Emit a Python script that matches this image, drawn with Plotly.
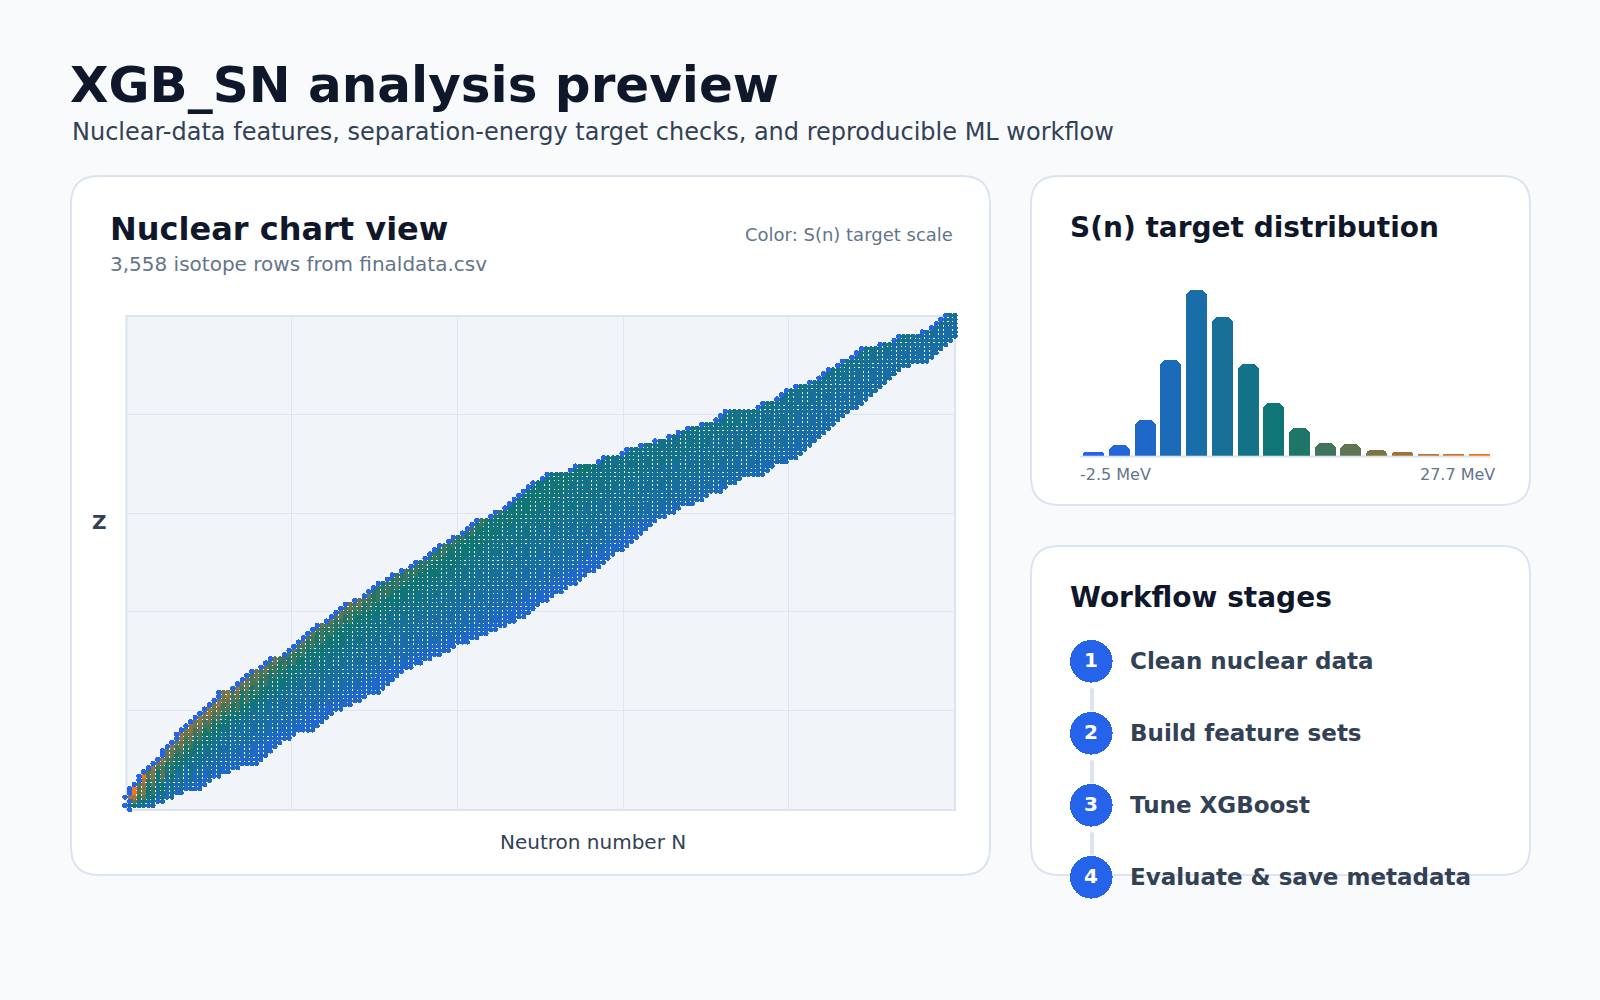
import plotly.graph_objects as go

BG = "#f8fafc"; INK = "#0f172a"; SLATE = "#334155"; MUTED = "#64748b"; EDGE = "#dbe4f0"; GRID = "#dfe6f1"; BLUE = "#2563eb"
COLORSCALE = [[0, "#2563eb"], [0.5, "#0f766e"], [1, "#f97316"]]
SN_MIN = -2.5
SN_MAX = 27.7
FONT = "DejaVu Sans"

# ---- isotope rows: first and last neutron number present for each Z = index
n_first = [1,0,1,0,1,1,2,3,3,4,
           5,6,7,8,8,9,10,11,11,12,
           13,14,15,16,17,18,19,20,20,23,
           24,25,26,27,29,30,31,34,35,36,
           37,38,39,40,41,43,44,45,46,47,
           49,51,52,53,54,56,57,59,61,62,
           64,65,66,67,69,70,72,73,74,75,
           78,79,81,82,83,84,85,86,87,89,
           90,95,96,101,102,106,107,110,113,116,
           118,120,123,126,127,128,135,136,139,140,
           141,143,146,148,149,150,152,153,155,156,
           157,161,164,165,170,172,173,174,175]
n_last = [1,6,8,10,12,16,17,18,20,22,
          24,28,29,30,31,32,33,35,36,40,
          41,42,43,44,46,48,50,51,54,55,
          56,57,58,59,61,63,65,67,69,70,
          73,75,77,79,81,83,85,86,87,88,
          90,91,93,94,96,97,98,100,101,102,
          103,104,106,107,108,109,110,111,112,113,
          115,117,118,121,123,124,127,128,130,131,
          136,137,138,141,143,144,145,146,147,148,
          149,150,151,152,153,154,156,157,158,159,
          160,161,162,163,164,165,167,171,172,173,
          174,175,176,177,177,177,177,177,177]

# ---- S(n): first N, per Z, at which S(n) falls under each level
below_24 = [0,0,0,2,3,3,3,4,5] + [0]*110
below_20 = [0,0,2,3,4,4,4,5,6,6,7,8,9,10,10,11,12,13,14,15,16,17,18,19,20,21,22,23,23,25,26,26,27,28,30,31,32,34,35,36,37,38,39,40,42,43] + [0]*73
below_16 = [0,1,2,4,5,5,5,6,7,7,8,9,10,11,12,13,14,15,16,17,18,19,20,21,22,23,24,25,25,27,28,29,30,31,32,33,34,36,37,38,39,40,41,42,44,45,47,48,50,51,52,53,53] + [0]*66
below_13 = [1,2,3,5,6,6,7,8,9,9,10,11,12,13,14,15,16,17,18,19,20,21,22,23,25,26,27,28,29,30,31,32,33,34,35,37,38,39,40,41,43,44,45,46,47,49,50,51,53,54,55,57,58,59,60,61,63,64,65,66,68,69,70,71,72,73,75,76,77,78,80,81,82,83,84,85,86,87,88,89,90] + [0]*38
below_10 = [1,2,4,6,7,8,8,9,10,11,12,13,14,15,16,17,18,19,20,21,22,23,24,26,27,28,29,30,32,33,34,35,36,37,39,40,41,43,44,45,47,48,49,50,51,53,54,56,57,59,60,61,63,64,65,67,68,69,71,72,73,75,76,77,78,80,81,82,83,85,87,88,90,91,92,93,94,95,96,97,99,100,101,103,104,107,108,111,114,117,120,122,124,127,128,129,136,137,140,141,142,144,147,149,150,151,153,154,156,157,158,162,165,166,171,173,174,175,176]
below_8 = [1,3,5,7,8,9,9,10,11,12,13,15,16,17,18,19,20,21,22,23,24,25,26,28,29,30,31,33,34,36,37,38,39,41,43,44,46,47,48,49,51,52,54,55,56,58,60,61,63,64,66,67,68,70,71,72,74,75,76,78,79,81,82,84,85,87,88,90,91,93,95,97,98,100,101,102,104,105,107,108,110,112,114,116,118,120,122,124,125,127,129,131,133,134,135,136,139,140,143,144,146,148,150,151,153,154,155,157,159,160,161,164,167,168,172,174,175,176,177]
below_7 = [1,4,6,8,9,10,11,12,13,14,15,17,18,19,20,21,22,23,25,26,27,28,29,31,32,33,35,36,38,40,41,43,44,45,47,48,50,51,53,54,56,57,59,60,62,63,65,66,68,70,72,73,75,76,78,79,81,82,84,85,87,88,90,91,93,95,96,98,100,101,103,105,107,108,110,112,114,116,118,120,122,124,126,128,130,131,133,134,135,137,139,140,142,143,144,146,147,149,150,152,153,154,156,157,158,159,160,162,163,164,165,168,170,171,174,175,176,177,178]
below_5 = [1,5,7,9,10,12,13,14,15,16,17,19,20,21,22,24,25,27,28,29,31,32,33,35,36,38,39,41,43,44,46,47,49,50,52,53,55,57,58,59,61,63,64,66,67,69,71,72,74,76,78,79,81,83,84,86,87,89,90,92,93,95,96,98,99,101,103,104,106,108,110,112,114,116,118,120,122,124,126,128,130,132,134,136,138,139,141,142,144,145,147,148,150,151,152,154,155,157,158,160,161,162,164,165,166,167,168,170,171,172,174,175,176,178,178,178,178,178,178]
below_4 = [2,6,8,10,11,13,15,16,17,18,20,22,23,24,25,27,28,30,31,33,34,35,37,38,40,42,43,45,47,48,50,51,53,54,56,58,60,61,63,65,66,68,70,72,74,75,77,79,81,83,85,86,88,89,91,92,93,95,96,97,99,100,101,103,104,106,107,108,110,112,114,116,117,119,121,123,125,127,130,132,135,136,138,141] + [999]*35
below_2 = [2,7,9,11,12,15,16,17,19,21,22,25,26,27,28,29,30,32,33,36,37,38,39,40,42,44,46,47,50,51,52,53,54,55,57,59,61,63,65,66,69,71,73,75,77,79,81,82,83,84,86,87,89,90,92,93,94,96,97,98,99,100,102,103,104,105,106,107,108,109,110] + [999]*48

sn_levels = [below_24, below_20, below_16, below_13, below_10, below_8, below_7, below_5, below_4, below_2]
# S(n), MeV, of the band above each level; the final value is the band under the last level
sn_band = [26.0, 19.5, 17.0, 14.5, 11.7, 9.5, 7.7, 6.2, 4.7, 3.2, 1.5]
# odd-even staggering seen as column stripes, one value per ten Z
stripe = [3.0, 1.2, 1.1, 1.0, 0.9, 0.8, 0.7, 0.6, 0.5, 0.4, 0.4, 0.4]

# ---- S(n) histogram
hist_counts = [20, 57, 192, 515, 892, 747, 494, 284, 149, 68, 63, 31, 20, 9, 9, 9]
hist_labels = ["-2.5 MeV", "27.7 MeV"]

steps = ["Clean nuclear data", "Build feature sets", "Tune XGBoost", "Evaluate & save metadata"]

# ---- assemble points
xs, ys, cs = [], [], []
for z, (a, b) in enumerate(zip(n_first, n_last)):
    for n in range(a + 1, b + 1):
        band = len(sn_band) - 1
        for i, lv in enumerate(sn_levels):
            if n < lv[z]:
                band = i
                break
        xs.append(n); ys.append(z)
        cs.append(sn_band[band] + (stripe[z // 10] if n % 2 == 0 else -stripe[z // 10]))

W, H = 1600, 1000
def px(x): return x / W
def py(y): return 1 - y / H

fig = go.Figure()
fig.add_trace(go.Scatter(x=xs, y=ys, mode="markers", cliponaxis=False, hoverinfo="skip",
    marker=dict(size=5, symbol="circle", color=cs, cmin=SN_MIN, cmax=SN_MAX, colorscale=COLORSCALE, line_width=0), xaxis="x", yaxis="y"))
fig.add_trace(go.Scatter(x=n_first, y=list(range(len(n_first))), mode="markers", cliponaxis=False, hoverinfo="skip",
    marker=dict(size=5.4, symbol="circle", color=BLUE, line_width=0), xaxis="x", yaxis="y"))

bin_w = (SN_MAX - SN_MIN) / len(hist_counts)
centers = [SN_MIN + (i + 0.5) * bin_w for i in range(len(hist_counts))]
fig.add_trace(go.Bar(x=centers, y=hist_counts, width=bin_w * 0.82, hoverinfo="skip",
    marker=dict(color=[i / (len(hist_counts) - 1) for i in range(len(hist_counts))], cmin=0, cmax=1, colorscale=COLORSCALE, cornerradius=7, line_width=0),
    xaxis="x2", yaxis="y2"))

def rrect(x0, y0, x1, y1, r):
    X = lambda v: f"{px(v):.5f}"
    Y = lambda v: f"{py(v):.5f}"
    return (f"M {X(x0+r)} {Y(y0)} L {X(x1-r)} {Y(y0)} Q {X(x1)} {Y(y0)} {X(x1)} {Y(y0+r)} "
            f"L {X(x1)} {Y(y1-r)} Q {X(x1)} {Y(y1)} {X(x1-r)} {Y(y1)} L {X(x0+r)} {Y(y1)} "
            f"Q {X(x0)} {Y(y1)} {X(x0)} {Y(y1-r)} L {X(x0)} {Y(y0+r)} Q {X(x0)} {Y(y0)} {X(x0+r)} {Y(y0)} Z")

shapes = []
for box in [(71, 176, 990, 875), (1031, 176, 1530, 505), (1031, 546, 1530, 875)]:
    shapes.append(dict(type="path", xref="paper", yref="paper", path=rrect(*box, 28), fillcolor="#ffffff",
                       line=dict(color=EDGE, width=2), layer="below"))
shapes.append(dict(type="rect", xref="paper", yref="paper", x0=px(126.5), x1=px(955), y0=py(810), y1=py(316),
                   fillcolor="#f1f5fa", line_width=0, layer="below"))
shapes.append(dict(type="rect", xref="paper", yref="paper", x0=px(126.5), x1=px(955), y0=py(810), y1=py(316),
                   fillcolor="rgba(0,0,0,0)", line=dict(color=EDGE, width=2), layer="between"))
shapes.append(dict(type="line", xref="paper", yref="paper", x0=px(1080), x1=px(1491), y0=py(456.5), y1=py(456.5),
                   line=dict(color=EDGE, width=2), layer="between"))

circle_y = [661.3, 733.3, 805.3, 877.3]
for i, cy in enumerate(circle_y):
    shapes.append(dict(type="circle", xref="paper", yref="paper", x0=px(1091.3 - 21.3), x1=px(1091.3 + 21.3),
                       y0=py(cy + 21.3), y1=py(cy - 21.3), fillcolor=BLUE, line_width=0, layer="above"))
    if i < 3:
        shapes.append(dict(type="line", xref="paper", yref="paper", x0=px(1092), x1=px(1092), y0=py(cy + 27), y1=py(cy + 50),
                           line=dict(color=EDGE, width=4), layer="above"))

def text(s, x, base, size, color, bold=False, anchor="left"):
    return dict(text=f"<b>{s}</b>" if bold else s, x=px(x), y=py(base - size * 0.36), xref="paper", yref="paper",
                xanchor=anchor, yanchor="middle", showarrow=False, borderpad=0,
                font=dict(family=FONT, size=size, color=color))

ann = [
    text("XGB_SN analysis preview", 68.5, 103, 50, INK, True),
    text("Nuclear-data features, separation-energy target checks, and reproducible ML workflow", 71, 140.5, 24, SLATE),
    text("Nuclear chart view", 109, 240.5, 32, INK, True),
    text("3,558 isotope rows from finaldata.csv", 109, 271, 20, MUTED),
    text("Color: S(n) target scale", 954, 241, 18, MUTED, anchor="right"),
    text("Z", 99, 529, 20, SLATE, True, anchor="center"),
    text("Neutron number N", 593, 849, 20, SLATE, anchor="center"),
    text("S(n) target distribution", 1069, 238, 28, INK, True),
    text(hist_labels[0], 1079, 480, 16, MUTED),
    text(hist_labels[1], 1496, 480, 16, MUTED, anchor="right"),
    text("Workflow stages", 1069, 608, 28, INK, True),
]
for i, (s, cy) in enumerate(zip(steps, circle_y)):
    ann.append(text(str(i + 1), 1091, cy + 6, 20, "#ffffff", True, anchor="center"))
    ann.append(text(s, 1129, cy + 7.5, 23, SLATE, True))

axis_common = dict(showticklabels=False, ticks="", zeroline=False, showline=False)
fig.update_layout(
    width=W, height=H, margin=dict(l=0, r=0, t=0, b=0), autosize=False,
    paper_bgcolor=BG, plot_bgcolor="rgba(0,0,0,0)", showlegend=False, bargap=0,
    shapes=shapes, annotations=ann, font=dict(family=FONT),
    xaxis=dict(domain=[px(125), px(955.2)], range=[0, 177.02], tickvals=[35.5, 70.8, 106.2, 141.5], showgrid=True, gridcolor=GRID, gridwidth=1, **axis_common),
    yaxis=dict(domain=[py(809.8), py(315.2)], range=[-0.02, 118.02], tickvals=[23.6, 47.2, 70.8, 94.4], showgrid=True, gridcolor=GRID, gridwidth=1, **axis_common),
    xaxis2=dict(domain=[px(1080), px(1491)], range=[-2.57, 27.6], showgrid=False, anchor="y2", **axis_common),
    yaxis2=dict(domain=[py(455.7), py(290)], range=[0, 892], showgrid=False, anchor="x2", **axis_common),
)
post = """
document.body.style.margin='0';document.body.style.overflow='hidden';
var gd=document.querySelector('.js-plotly-plot');
gd.querySelectorAll('.point, .bars path').forEach(function(p){p.style.shapeRendering='crispEdges';});
gd.querySelectorAll('.shapelayer path').forEach(function(p){if(p.style.fill==='rgb(37, 99, 235)'){p.style.shapeRendering='crispEdges';}});
"""
fig.write_html("out.html", config={"displayModeBar": False}, post_script=post)
